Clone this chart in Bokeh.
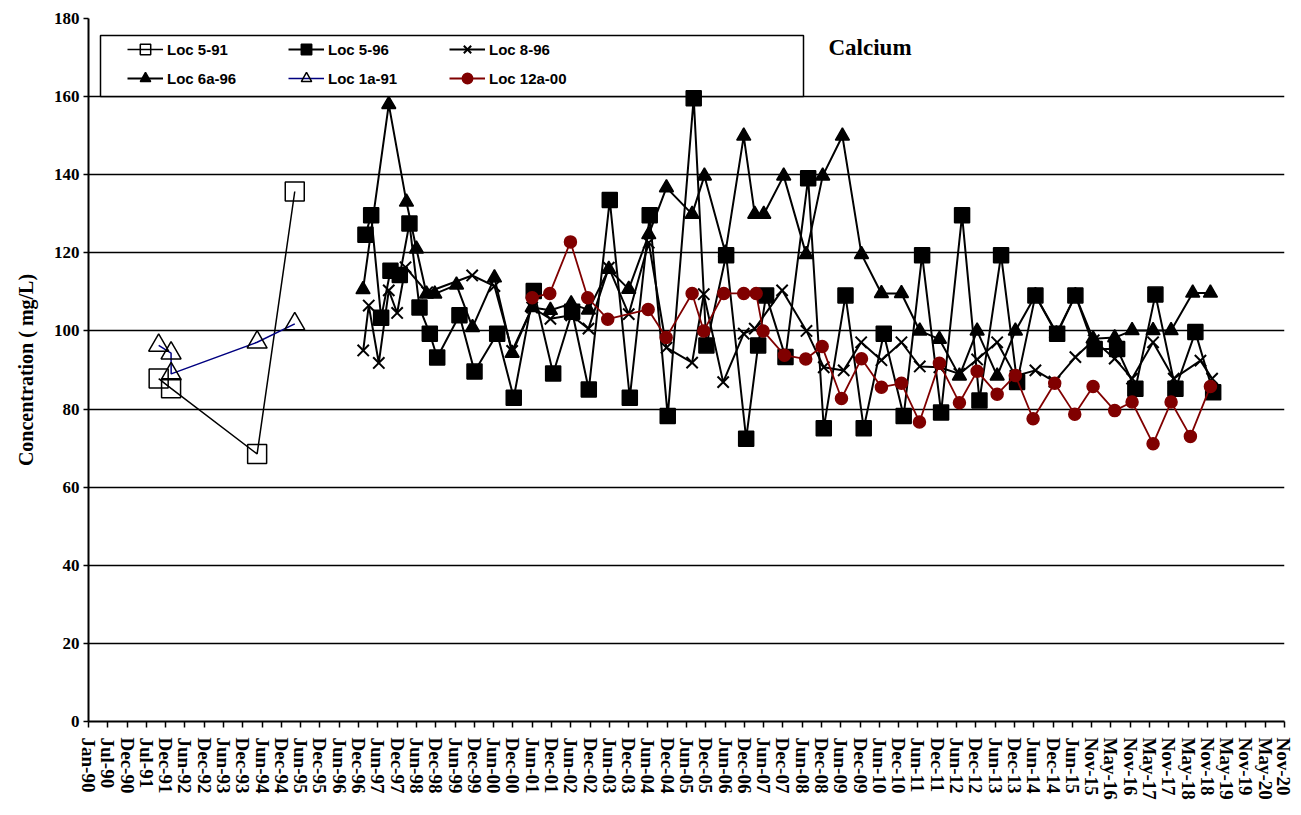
import pandas as pd
from bokeh.plotting import figure
from bokeh.models import Range1d, FixedTicker, Legend, LegendItem, Label, BoxAnnotation
from bokeh.embed import file_html
from bokeh.resources import INLINE

# ---------------- data ----------------
TICK_LABELS = ["Jan-90", "Jul-90", "Dec-90", "Jul-91", "Dec-91", "Jun-92", "Dec-92", "Jun-93",
               "Dec-93", "Jun-94", "Dec-94", "Jun-95", "Dec-95", "Jun-96", "Dec-96", "Jun-97",
               "Dec-97", "Jun-98", "Dec-98", "Jun-99", "Dec-99", "Jun-00", "Dec-00", "Jun-01",
               "Dec-01", "Jun-02", "Dec-02", "Jun-03", "Dec-03", "Jun-04", "Dec-04", "Jun-05",
               "Dec-05", "Jun-06", "Dec-06", "Jun-07", "Dec-07", "Jun-08", "Dec-08", "Jun-09",
               "Dec-09", "Jun-10", "Dec-10", "Jun-11", "Dec-11", "Jun-12", "Dec-12", "Jun-13",
               "Dec-13", "Jun-14", "Dec-14", "Jun-15", "Nov-15", "May-16", "Nov-16", "May-17",
               "Nov-17", "May-18", "Nov-18", "May-19", "Nov-19", "May-20", "Nov-20"]
AXIS_START = "1990-01-01"
TICK_STEP_DAYS = 182

LOC5_91_DATES = ["1991-10-25", "1992-02-19", "1994-05-11", "1995-05-01"]
LOC5_91 = [87.8, 85.3, 68.5, 135.7]

LOC1A_91_DATES = ["1991-10-25", "1992-02-19", "1992-02-20", "1994-05-11", "1995-05-01"]
LOC1A_91 = [96.3, 94.3, 89.0, 97.1, 101.8]

LOC5_96_DATES = ["1997-02-26", "1997-04-21", "1997-07-24", "1997-10-20", "1998-01-16", "1998-04-17",
                 "1998-07-21", "1998-10-26", "1999-01-04", "1999-08-02", "1999-12-22", "2000-07-23",
                 "2000-12-26", "2001-07-03", "2002-01-02", "2002-06-30", "2002-12-04", "2003-06-20",
                 "2003-12-26", "2004-07-01", "2004-12-18", "2005-08-20", "2005-12-18", "2006-06-22",
                 "2006-12-28", "2007-04-20", "2007-07-04", "2008-01-03", "2008-08-04", "2008-12-29",
                 "2009-07-22", "2010-01-10", "2010-07-18", "2011-01-22", "2011-07-15", "2012-01-10",
                 "2012-07-26", "2013-01-06", "2013-07-29", "2013-12-27", "2014-06-18", "2015-01-09",
                 "2015-06-30", "2015-12-29", "2016-07-28", "2017-01-16", "2017-07-24", "2018-01-29",
                 "2018-08-05", "2019-01-20"]
LOC5_96 = [124.6, 129.6, 103.4, 115.4, 114.3, 127.5, 106.0, 99.3, 93.2, 104.0, 89.6, 99.3,
           82.9, 110.2, 89.1, 104.9, 85.0, 133.5, 82.9, 129.6, 78.2, 159.6, 96.3, 119.4,
           72.4, 96.3, 109.1, 93.3, 139.1, 75.1, 109.1, 75.1, 99.3, 78.2, 119.4, 79.1,
           129.6, 82.2, 119.4, 86.9, 109.1, 99.3, 109.1, 95.4, 95.4, 85.2, 109.3, 85.2,
           99.7, 84.3]

LOC8_96_DATES = ["1997-02-05", "1997-03-29", "1997-07-02", "1997-10-04", "1997-12-22", "1998-03-11",
                 "1998-10-01", "1999-11-30", "2000-06-27", "2000-12-11", "2001-06-18", "2001-12-07",
                 "2002-06-21", "2002-12-01", "2003-06-11", "2003-12-16", "2004-06-22", "2004-12-06",
                 "2005-08-05", "2005-11-23", "2006-05-25", "2006-12-05", "2007-03-19", "2007-12-02",
                 "2008-07-19", "2008-12-29", "2009-07-05", "2009-12-17", "2010-06-26", "2011-01-01",
                 "2011-06-23", "2011-12-25", "2012-07-01", "2012-12-15", "2013-06-22", "2013-12-11",
                 "2014-06-18", "2014-12-14", "2015-06-30", "2015-12-20", "2016-07-05", "2016-12-16",
                 "2017-07-02", "2018-01-13", "2018-09-22", "2019-01-10"]
LOC8_96 = [95.0, 106.5, 91.8, 110.4, 104.6, 116.3, 109.9, 114.2, 111.5, 94.9, 106.0, 103.1,
           104.0, 100.6, 116.2, 104.3, 122.6, 95.7, 91.9, 109.4, 86.9, 99.3, 100.6, 110.4,
           100.0, 90.7, 89.9, 97.1, 92.5, 97.1, 90.9, 90.7, 89.0, 92.7, 97.1, 88.5,
           89.9, 87.0, 93.3, 97.6, 92.9, 87.8, 97.1, 87.8, 92.4, 87.8]

LOC6A_96_DATES = ["1997-02-03", "1997-10-04", "1998-03-20", "1998-06-22", "1998-09-25", "1998-12-12",
                  "1999-07-05", "1999-12-03", "2000-06-27", "2000-12-11", "2001-06-18", "2001-12-07",
                  "2002-06-21", "2002-12-01", "2003-06-11", "2003-12-16", "2004-06-22", "2004-12-06",
                  "2005-08-05", "2005-11-29", "2006-06-15", "2006-12-05", "2007-03-19", "2007-06-12",
                  "2007-12-17", "2008-07-16", "2008-12-19", "2009-06-23", "2009-12-20", "2010-06-26",
                  "2011-01-01", "2011-06-23", "2011-12-25", "2012-07-01", "2012-12-15", "2013-06-22",
                  "2013-12-11", "2014-06-18", "2015-01-02", "2015-06-30", "2015-12-14", "2016-07-05",
                  "2016-12-16", "2017-07-02", "2017-12-19", "2018-07-11", "2018-12-25"]
LOC6A_96 = [110.6, 158.0, 133.0, 121.0, 109.5, 109.5, 111.8, 100.9, 113.6, 94.3, 106.0, 105.3,
            107.0, 105.4, 115.8, 110.7, 124.7, 136.7, 129.9, 139.7, 120.0, 149.9, 129.9, 129.9,
            139.7, 119.6, 139.7, 149.9, 119.6, 109.6, 109.6, 100.0, 97.9, 88.5, 100.0, 88.5,
            100.0, 109.1, 99.3, 109.1, 98.0, 98.3, 100.1, 100.1, 100.1, 109.7, 109.7]

LOC12A_00_DATES = ["2001-06-18", "2001-12-01", "2002-06-14", "2002-11-24", "2003-06-01", "2004-06-16",
                   "2004-12-03", "2005-08-05", "2005-11-23", "2006-05-31", "2006-12-05", "2007-04-01",
                   "2007-06-06", "2007-12-24", "2008-07-12", "2008-12-14", "2009-06-14", "2009-12-20",
                   "2010-06-26", "2011-01-01", "2011-06-20", "2011-12-25", "2012-07-01", "2012-12-15",
                   "2013-06-22", "2013-12-11", "2014-05-27", "2014-12-17", "2015-06-24", "2015-12-14",
                   "2016-07-05", "2016-12-16", "2017-07-02", "2017-12-19", "2018-06-19", "2018-12-25"]
LOC12A_00 = [108.5, 109.6, 122.8, 108.5, 103.0, 105.5, 98.3, 109.6, 100.0, 109.6, 109.6, 109.6,
             100.0, 93.8, 92.8, 96.0, 82.7, 92.9, 85.6, 86.6, 76.7, 91.7, 81.6, 89.7,
             83.8, 88.6, 77.5, 86.6, 78.7, 85.8, 79.6, 81.8, 71.1, 81.8, 73.0, 85.8]


def days(dates):
    return list((pd.to_datetime(dates) - pd.Timestamp(AXIS_START)).days)


# ---------------- figure ----------------
SERIF = "Liberation Serif"
BLACK = "black"
NAVY = "#000080"
MAROON = "#800000"

p = figure(frame_width=1196, frame_height=703, output_backend="svg", toolbar_location=None,
           min_border_left=88, min_border_right=9, min_border_top=18, min_border_bottom=90,
           x_range=Range1d(0, TICK_STEP_DAYS * (len(TICK_LABELS) - 1)), y_range=Range1d(0, 180))
p.outline_line_color = None
p.background_fill_color = "white"
p.border_fill_color = "white"

ticks = [i * TICK_STEP_DAYS for i in range(len(TICK_LABELS))]
p.xaxis.ticker = FixedTicker(ticks=ticks)
p.xaxis.major_label_overrides = {t: lab for t, lab in zip(ticks, TICK_LABELS)}
p.xaxis.major_label_orientation = "vertical"
p.xaxis.major_label_text_font = SERIF
p.xaxis.major_label_text_font_style = "bold"
p.xaxis.major_label_text_font_size = "19px"
p.xaxis.major_label_text_color = BLACK
p.xaxis.major_label_standoff = 10
p.xaxis.major_tick_out = 6
p.xaxis.major_tick_in = 0
p.xaxis.minor_tick_line_color = None
p.xaxis.axis_line_width = 2
p.xaxis.axis_line_color = BLACK
p.xaxis.major_tick_line_width = 1.5
p.xaxis.major_tick_line_color = BLACK

p.yaxis.ticker = FixedTicker(ticks=list(range(0, 181, 20)))
p.yaxis.major_label_text_font = SERIF
p.yaxis.major_label_text_font_style = "bold"
p.yaxis.major_label_text_font_size = "17px"
p.yaxis.major_label_text_color = BLACK
p.yaxis.major_label_standoff = 4
p.yaxis.major_tick_out = 5
p.yaxis.major_tick_in = 0
p.yaxis.minor_tick_line_color = None
p.yaxis.axis_line_width = 2
p.yaxis.axis_line_color = BLACK
p.yaxis.major_tick_line_width = 1.5
p.yaxis.major_tick_line_color = BLACK
p.yaxis.axis_label = "Concentration ( mg/L)"
p.yaxis.axis_label_text_font = SERIF
p.yaxis.axis_label_text_font_style = "bold"
p.yaxis.axis_label_text_font_size = "20px"
p.yaxis.axis_label_text_color = BLACK
p.yaxis.axis_label_standoff = 14

p.xgrid.grid_line_color = None
p.ygrid.ticker = FixedTicker(ticks=list(range(20, 181, 20)))
p.ygrid.grid_line_color = BLACK
p.ygrid.grid_line_width = 1.5

# legend frame (drawn under the data, like the original)
p.add_layout(BoxAnnotation(left=12, right=715, bottom=625, top=686,
                           left_units="screen", right_units="screen",
                           bottom_units="screen", top_units="screen",
                           fill_color="white", fill_alpha=1.0,
                           line_color=BLACK, line_alpha=1.0, line_width=1.5,
                           level="underlay"))

items = {}


def series(name, dates, vals, line_color, marker, size, fill, lw=2, mlw=1.5):
    x = days(dates)
    r1 = p.line(x, vals, line_color=line_color, line_width=lw)
    r2 = p.scatter(x, vals, marker=marker, size=size,
                   line_color=BLACK if marker != "circle" else line_color,
                   fill_color=fill, fill_alpha=1.0 if fill else 0, line_width=mlw)
    items[name] = [r1, r2]


series("Loc 5-91", LOC5_91_DATES, LOC5_91, BLACK, "square", 19, None, lw=1.5)
series("Loc 5-96", LOC5_96_DATES, LOC5_96, BLACK, "square", 15, BLACK)
series("Loc 8-96", LOC8_96_DATES, LOC8_96, BLACK, "x", 16, None, mlw=2)
series("Loc 6a-96", LOC6A_96_DATES, LOC6A_96, BLACK, "triangle", 14, BLACK)
series("Loc 1a-91", LOC1A_91_DATES, LOC1A_91, NAVY, "triangle", 20, None, lw=1.5)
series("Loc 12a-00", LOC12A_00_DATES, LOC12A_00, MAROON, "circle", 12, MAROON, lw=1.8)

order = ["Loc 5-91", "Loc 5-96", "Loc 8-96", "Loc 6a-96", "Loc 1a-91", "Loc 12a-00"]
legend = Legend(items=[LegendItem(label=n, renderers=items[n]) for n in order],
                location=(36, 627), orientation="horizontal", ncols=3,
                glyph_width=36, glyph_height=26, label_width=118, label_standoff=4,
                spacing=3, padding=3, margin=0,
                border_line_alpha=0, background_fill_alpha=0,
                label_text_font="Liberation Sans", label_text_font_style="bold",
                label_text_font_size="15px", label_text_color=BLACK)
p.add_layout(legend)

p.add_layout(Label(x=740, y=674, x_units="screen", y_units="screen", text="Calcium",
                   text_font=SERIF, text_font_style="bold", text_font_size="23px",
                   text_color=BLACK, text_baseline="middle"))

open("out.html", "w").write(file_html(p, INLINE))
